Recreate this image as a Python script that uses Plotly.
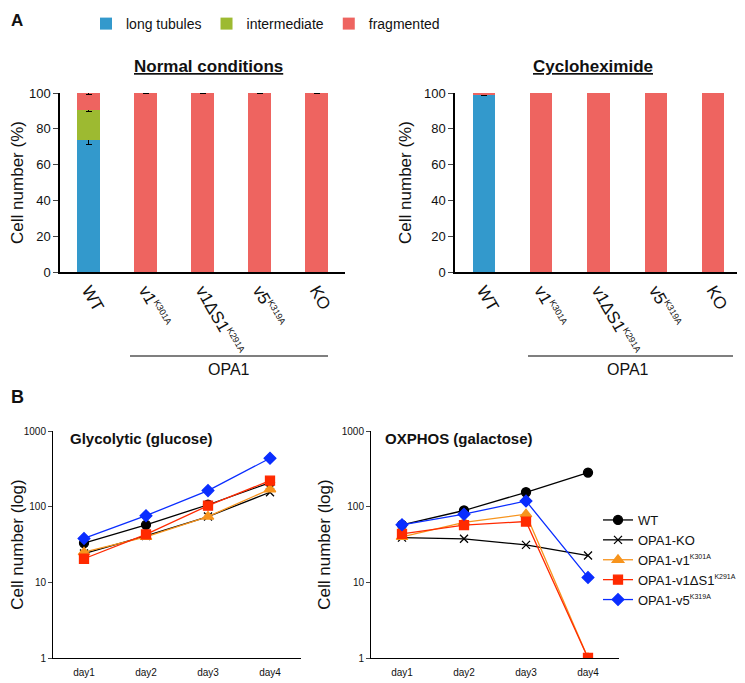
import plotly.graph_objects as go

# the page body adds an 8px margin, so the figure is a bit smaller than the window
W, H = 737, 675
OFF = 8

# --- panel A data -----------------------------------------------------------
genotypes = [
    "WT",
    "v1<sup><span style='font-size:9px'>K301A</span></sup>",
    "v1ΔS1<sup><span style='font-size:9px'>K291A</span></sup>",
    "v5<sup><span style='font-size:9px'>K319A</span></sup>",
    "KO",
]
normal_long = [73.5, 0, 0, 0, 0]
normal_inter = [17.0, 0, 0, 0, 0]
normal_frag = [9.5, 100, 100, 100, 100]
normal_long_err = [2.5, 0, 0, 0, 0]
normal_inter_err = [0.8, 0, 0, 0, 0]
normal_frag_err = [1.0, 0.3, 0.3, 0.3, 0.3]

chx_long = [99.0, 0, 0, 0, 0]
chx_inter = [0, 0, 0, 0, 0]
chx_frag = [1.0, 100, 100, 100, 100]
chx_long_err = [0.6, 0, 0, 0, 0]

# --- panel B data -----------------------------------------------------------
days = ["day1", "day2", "day3", "day4"]
lines_names = [
    "WT",
    "OPA1-KO",
    "OPA1-v1<sup><span style='font-size:7px'>K301A</span></sup>",
    "OPA1-v1ΔS1<sup><span style='font-size:7px'>K291A</span></sup>",
    "OPA1-v5<sup><span style='font-size:7px'>K319A</span></sup>",
]
glyco = [
    [33, 57.5, 106, 208],
    [24, 41, 74, 155],
    [25, 40, 74, 170],
    [20.5, 43, 103, 221],
    [38, 76, 163, 436],
]
oxphos = [
    [57.5, 89, 155, 282],
    [39, 37.6, 31.3, 22.6],
    [40, 62, 79.5, 1],
    [43.8, 57, 63.6, 1],
    [57.5, 79.5, 119, 11.6],
]

BAR_COLORS = {"long": "#3399cc", "inter": "#9dba31", "frag": "#ee6460"}
LINE_STYLES = [
    dict(color="#000000", symbol="circle", size=9),
    dict(color="#000000", symbol="x-thin", size=8),
    dict(color="#f7941d", symbol="triangle-up", size=10),
    dict(color="#ff2a00", symbol="square", size=9),
    dict(color="#0a2dff", symbol="diamond", size=9),
]
FONT = "Liberation Sans, Arial, sans-serif"


def px(x):
    return (x - OFF) / W


def py(y):
    return 1 - (y - OFF) / H


fig = go.Figure()


def add_bars(xa, ya, long_, inter, frag, long_err, inter_err, frag_err, show):
    for vals, err, key, name in [
        (long_, long_err, "long", "long tubules"),
        (inter, inter_err, "inter", "intermediate"),
        (frag, frag_err, "frag", "fragmented"),
    ]:
        fig.add_trace(go.Bar(
            x=genotypes, y=vals, name=name,
            marker=dict(color=BAR_COLORS[key], line_width=0),
            width=0.39,
            error_y=dict(type="data", array=err, color="#000000",
                         thickness=1, width=3, visible=any(e > 0 for e in err)),
            xaxis=xa, yaxis=ya, showlegend=show, legend="legend",
        ))


add_bars("x", "y", normal_long, normal_inter, normal_frag,
         normal_long_err, normal_inter_err, normal_frag_err, True)
add_bars("x2", "y2", chx_long, chx_inter, chx_frag,
         chx_long_err, [0] * 5, [0] * 5, False)

for i, name in enumerate(lines_names):
    st = LINE_STYLES[i]
    for data, xa, ya, show in [(glyco, "x3", "y3", False), (oxphos, "x4", "y4", True)]:
        fig.add_trace(go.Scatter(
            x=[1, 2, 3, 4], y=data[i], name=name, mode="lines+markers",
            line=dict(color=st["color"], width=1.3),
            marker=dict(symbol=st["symbol"], size=st["size"], color=st["color"],
                        line=dict(color=st["color"], width=1.3)),
            xaxis=xa, yaxis=ya, showlegend=show, legend="legend2",
        ))

top_x = dict(
    type="category", range=[-0.5, 4.5], showline=True, linecolor="#000000",
    linewidth=1.5, ticks="", tickangle=60, showgrid=False,
    tickfont=dict(size=17, color="#111111"),
)
top_y = dict(
    range=[0, 100], tickvals=[0, 20, 40, 60, 80, 100], showline=True,
    linecolor="#000000", linewidth=1.5, ticks="outside", ticklen=5,
    showgrid=False, zeroline=False, tickfont=dict(size=13, color="#111111"),
    title=dict(text="Cell number (%)", font=dict(size=17, color="#111111"), standoff=8),
    domain=[py(272), py(93)],
)
bot_x = dict(
    range=[0.5, 4.5], tickvals=[1, 2, 3, 4], ticktext=days, showline=True,
    linecolor="#000000", linewidth=1, ticks="", showgrid=False, zeroline=False,
    tickfont=dict(size=10, color="#111111"), ticklabelstandoff=5,
)
bot_y = dict(
    type="log", range=[0, 3], tickvals=[1, 10, 100, 1000], ticktext=["1", "10", "100", "1000"],
    showline=True, linecolor="#000000", linewidth=1, ticks="outside", ticklen=4,
    showgrid=False, zeroline=False, tickfont=dict(size=10, color="#111111"),
    title=dict(text="Cell number (log)", font=dict(size=17, color="#111111"), standoff=6),
    domain=[py(658), py(431)],
)

fig.update_layout(
    width=W, height=H,
    margin=dict(l=0, r=0, t=0, b=0, autoexpand=False),
    paper_bgcolor="white", plot_bgcolor="white",
    font=dict(family=FONT, color="#111111"),
    barmode="stack",
    xaxis=dict(top_x, domain=[px(60), px(345)], anchor="y"),
    yaxis=dict(top_y, anchor="x"),
    xaxis2=dict(top_x, domain=[px(455), px(742)], anchor="y2"),
    yaxis2=dict(top_y, anchor="x2"),
    xaxis3=dict(bot_x, domain=[px(53), px(301)], anchor="y3"),
    yaxis3=dict(bot_y, anchor="x3"),
    xaxis4=dict(bot_x, domain=[px(371), px(619)], anchor="y4"),
    yaxis4=dict(bot_y, anchor="x4"),
    legend=dict(
        orientation="h", x=px(86), y=py(8), xanchor="left", yanchor="top",
        font=dict(size=14, color="#111111"), bgcolor="rgba(0,0,0,0)",
        itemwidth=30, tracegroupgap=0, traceorder="normal",
    ),
    legend2=dict(
        x=px(598), y=py(505), xanchor="left", yanchor="top",
        font=dict(size=13, color="#111111"), bgcolor="rgba(0,0,0,0)",
        itemwidth=30, tracegroupgap=2,
    ),
)

annotations = [
    dict(text="<b>A</b>", x=px(9), y=py(9), font=dict(size=17), xanchor="left", yanchor="top"),
    dict(text="<b>B</b>", x=px(9), y=py(397), font=dict(size=18), xanchor="left"),
    dict(text="<b><u>Normal conditions</u></b>", x=px(209), y=py(66), font=dict(size=17)),
    dict(text="<b><u>Cycloheximide</u></b>", x=px(593), y=py(66), font=dict(size=17)),
    dict(text="OPA1", x=px(229), y=py(369), font=dict(size=16)),
    dict(text="OPA1", x=px(628), y=py(369), font=dict(size=16)),
    dict(text="<b>Glycolytic (glucose)</b>", x=px(68), y=py(438), font=dict(size=15), xanchor="left"),
    dict(text="<b>OXPHOS (galactose)</b>", x=px(383), y=py(438), font=dict(size=15), xanchor="left"),
]
for a in annotations:
    a.setdefault("xanchor", "center")
    a.setdefault("yanchor", "middle")
    fig.add_annotation(xref="paper", yref="paper", showarrow=False,
                       font_family=FONT, **a)

for x0, x1 in [(130, 328), (528, 733)]:
    fig.add_shape(type="line", xref="paper", yref="paper",
                  x0=px(x0), x1=px(x1), y0=py(356), y1=py(356),
                  line=dict(color="#000000", width=1.2))

fig.write_html("out.html")
